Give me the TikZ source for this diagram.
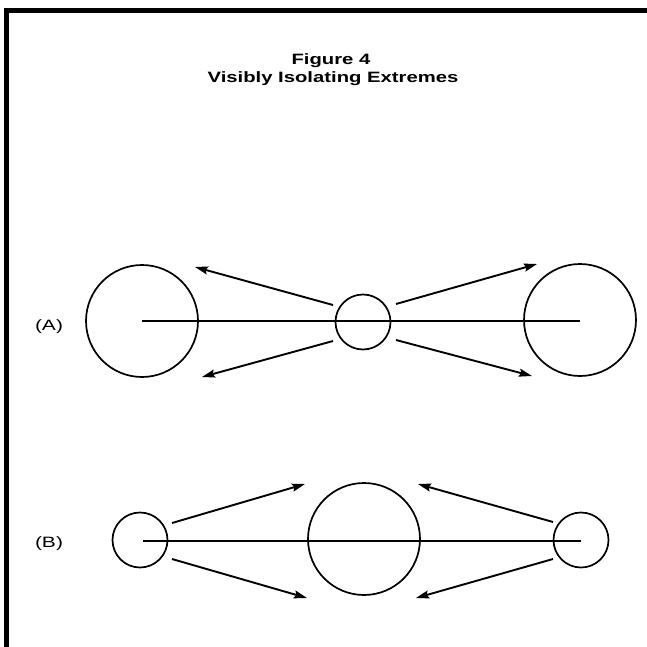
\documentclass[tikz,border=0pt]{standalone}
\usepackage{graphicx}
\usepackage{fontspec}
\setmainfont{Liberation Sans}
\usetikzlibrary{arrows.meta}
\newcommand{\widetext}[2]{\scalebox{#1}[1]{#2}}
\begin{document}
\begin{tikzpicture}[x=1pt,y=-1pt,
  ring/.style={draw, circle, inner sep=0pt, line width=1.7pt},
  bigring/.style={ring, minimum size=112pt},
  smallring/.style={ring, minimum size=55pt},
  axis/.style={line width=1.8pt},
  push/.style={line width=1.9pt, -{Stealth[length=13pt,width=8pt,inset=2pt]}},
  frame/.style={line width=5pt},
  lbl/.style={font=\fontsize{15}{15}\selectfont, inner sep=0pt, anchor=base},
  ttl/.style={font=\bfseries\fontsize{15}{15}\selectfont, inner sep=0pt, anchor=base}]
\useasboundingbox (0,0) rectangle (647,647);
% frame
\coordinate (fa) at (6.5,647);
\coordinate (fb) at (6.5,10.5);
\coordinate (fc) at (647,10.5);
\draw[frame] (fa) -- (fb) -- (fc);
% title
\node[ttl] (title1) at (331,65) {\widetext{1.35}{Figure 4}};
\node[ttl] (title2) at (333,83) {\widetext{1.35}{Visibly Isolating Extremes}};
% (A)
\node[lbl] (la) at (49,330.5) {\widetext{1.4}{(A)}};
\node[bigring] (a1) at (142,321) {};
\node[smallring] (a2) at (363,322) {};
\node[bigring] (a3) at (580,320) {};
\coordinate (a1c) at (142,321);
\coordinate (a3c) at (580,321);
\draw[axis] (a1c) -- (a3c);
\coordinate (aul) at (333,305); \coordinate (aulT) at (195,267);
\coordinate (all) at (333,341); \coordinate (allT) at (202,377);
\coordinate (aur) at (396,304); \coordinate (aurT) at (537,264);
\coordinate (alr) at (396,340); \coordinate (alrT) at (532,376);
\draw[push] (aul) -- (aulT);
\draw[push] (all) -- (allT);
\draw[push] (aur) -- (aurT);
\draw[push] (alr) -- (alrT);
% (B)
\node[lbl] (lb) at (49,547.5) {\widetext{1.4}{(B)}};
\node[smallring] (b1) at (140,540) {};
\node[bigring] (b2) at (364,539) {};
\node[smallring] (b3) at (581,540) {};
\coordinate (b1c) at (143,541);
\coordinate (b3c) at (581,541);
\draw[axis] (b1c) -- (b3c);
\coordinate (bul) at (172,523); \coordinate (bulT) at (305,484);
\coordinate (bll) at (172,559); \coordinate (bllT) at (307,598);
\coordinate (bur) at (553,522); \coordinate (burT) at (418,484);
\coordinate (blr) at (553,559); \coordinate (blrT) at (416,598);
\draw[push] (bul) -- (bulT);
\draw[push] (bll) -- (bllT);
\draw[push] (bur) -- (burT);
\draw[push] (blr) -- (blrT);
\end{tikzpicture}
\end{document}
